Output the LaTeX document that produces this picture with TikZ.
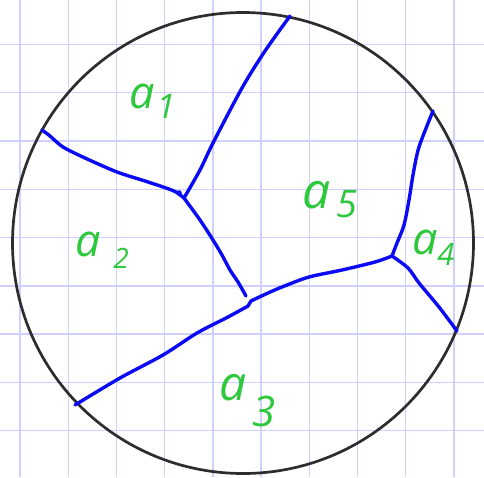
\documentclass[tikz,border=0pt]{standalone}
\usepackage{fontspec}
\setmainfont{Open Sans}
\definecolor{gridc}{RGB}{208,208,255}
\definecolor{inkblue}{RGB}{10,10,245}
\definecolor{inkgreen}{RGB}{45,200,60}
\definecolor{circc}{RGB}{45,45,45}
\tikzset{
  gridline/.style={draw=gridc,line width=1.4pt},
  boundary/.style={draw=inkblue,line width=3.4pt,line cap=round,line join=round},
  letter/.style={text=inkgreen,inner sep=0pt,font=\itshape\fontsize{45}{45}\selectfont},
  digit/.style={text=inkgreen,inner sep=0pt,font=\itshape\fontsize{34}{34}\selectfont},
}
\begin{document}
\begin{tikzpicture}[x=1pt,y=-1pt]
\fill[white] (0,0) rectangle (484,477);
\useasboundingbox (0,0) rectangle (484,477);
% grid
\foreach \i in {0,...,9} {
  \draw[gridline] ({20+48.2*\i},0) -- ({20+48.2*\i},477);
}
\foreach \j in {0,...,8} {
  \draw[gridline] (0,{44.3+48.3*\j}) -- (484,{44.3+48.3*\j});
}
% circle
\coordinate (O) at (243,243);
\draw[circc,line width=2.7pt] (O) circle[radius=230.5];
% points
\coordinate (J1) at (184,198);
\coordinate (J2) at (392,256);
\coordinate (P1) at (42,130);
\coordinate (P2) at (290,16);
\coordinate (P3) at (433,111);
\coordinate (P4) at (457,331);
\coordinate (P5) at (75,405);
\coordinate (E3) at (246,296);
% boundaries
\draw[boundary] plot[smooth,tension=0.5] coordinates {(42,130) (50,136) (63,147) (85,158) (117,172) (145,181) (166,188) (176,192) (184,198)};
\fill[inkblue] (179,193) circle[radius=2.8];
\draw[boundary] plot[smooth,tension=0.5] coordinates {(184,198) (200,170) (213,143) (242,88) (265,51) (290,16)};
\draw[boundary] plot[smooth,tension=0.5] coordinates {(184,198) (200,220) (213,240) (222,255) (230,270) (238,282) (246,296)};
\draw[boundary] plot[smooth,tension=0.5] coordinates {(75,405) (120,378) (163,355) (197,333) (228,317) (248,306)};
\draw[boundary] (248,306) -- (251,301) -- (253,300);
\draw[boundary] plot[smooth,tension=0.5] coordinates {(253,300) (268,293) (282,287) (309,277) (342,270) (375,262) (392,256)};
\draw[boundary] plot[smooth,tension=0.5] coordinates {(392,256) (397,243) (404,225) (409,200) (413,175) (419,147) (433,111)};
\draw[boundary] plot[smooth,tension=0.5] coordinates {(392,256) (408,268) (419,283) (439,307) (457,331)};
% labels
\node[letter] (a1) at (142,96) {a};
\node[digit] (d1) at (166,106) {1};
\node[letter] (a2) at (88,244) {a};
\node[digit,font=\itshape\fontsize{28}{28}\selectfont] (d2) at (121,258) {2};
\node[letter,font=\itshape\fontsize{50}{50}\selectfont] (a5) at (317,195) {a};
\node[digit,font=\itshape\fontsize{38}{38}\selectfont] (d5) at (347,204) {5};
\node[letter] (a4) at (425,242) {a};
\node[digit,font=\itshape\fontsize{31}{31}\selectfont] (d4) at (446,254) {4};
\node[letter,font=\itshape\fontsize{48}{48}\selectfont] (a3) at (233,388) {a};
\node[digit,font=\itshape\fontsize{42}{42}\selectfont] (d3) at (264,411) {3};
\end{tikzpicture}
\end{document}
